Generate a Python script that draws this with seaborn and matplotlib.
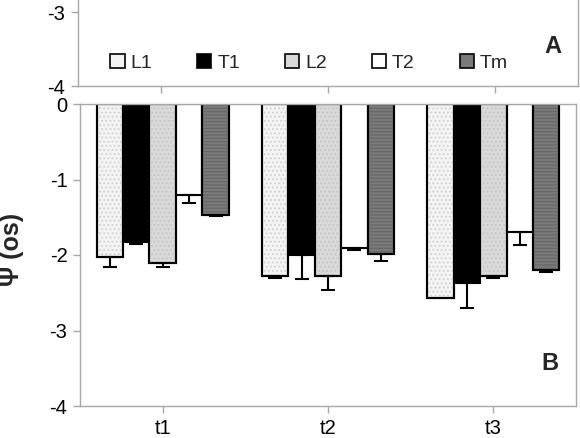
import numpy as np
import pandas as pd
import matplotlib
matplotlib.use("Agg")
import matplotlib.pyplot as plt
import seaborn as sns
from matplotlib.patches import Rectangle

sns.set_style("white")
plt.rcParams["font.family"] = ["Liberation Sans", "DejaVu Sans"]
plt.rcParams["hatch.linewidth"] = 0.8

# ---------------- data (panel B) ----------------
times = ["t1", "t2", "t3"]
series = ["L1", "T1", "L2", "T2", "Tm"]
L1 = [-2.03, -2.28, -2.57]
T1 = [-1.83, -2.00, -2.37]
L2 = [-2.10, -2.28, -2.28]
T2 = [-1.20, -1.91, -1.69]
Tm = [-1.47, -1.99, -2.20]
L1_err = [0.13, 0.03, 0.0]
T1_err = [0.02, 0.32, 0.33]
L2_err = [0.06, 0.18, 0.03]
T2_err = [0.11, 0.02, 0.18]
Tm_err = [0.02, 0.09, 0.02]

vals = {"L1": L1, "T1": T1, "L2": L2, "T2": T2, "Tm": Tm}
errs = {"L1": L1_err, "T1": T1_err, "L2": L2_err, "T2": T2_err, "Tm": Tm_err}
colors = {"L1": "#f3f3f3", "T1": "#000000", "L2": "#d9d9d9", "T2": "#ffffff", "Tm": "#7a7a7a"}
hatches = {"L1": "....", "T1": None, "L2": "....", "T2": None, "Tm": "-----"}
hatch_col = {"L1": "#d0d0d0", "L2": "#c4c4c4", "Tm": "#666666"}

df = pd.DataFrame([(t, s, vals[s][i]) for s in series for i, t in enumerate(times)],
                  columns=["time", "series", "psi"])

fig = plt.figure(figsize=(5.8, 4.38), dpi=100)
W, H = 580, 438
axA = fig.add_axes([78 / W, (H - 86) / H, 500 / W, 296 / H])
axB = fig.add_axes([80 / W, (H - 406) / H, 496 / W, 302 / H])

spine_c = "#a8a8a8"

# ---------------- panel B ----------------
sns.barplot(data=df, x="time", y="psi", hue="series", order=times, hue_order=series,
            palette=colors, errorbar=None, width=0.8, edgecolor="black", linewidth=1.5,
            ax=axB)
for cont, s in zip(axB.containers, series):
    for i, bar in enumerate(cont):
        x = bar.get_x() + bar.get_width() / 2
        if errs[s][i] > 0:
            axB.errorbar(x, vals[s][i], yerr=[[errs[s][i]], [0]], fmt="none",
                         ecolor="black", elinewidth=1.5, capsize=5, capthick=1.5, zorder=1)
        if hatches[s]:
            axB.add_patch(Rectangle((bar.get_x(), bar.get_y()), bar.get_width(), bar.get_height(),
                                    fill=False, hatch=hatches[s], edgecolor=hatch_col[s],
                                    linewidth=0, zorder=bar.get_zorder() + 0.1))
            axB.add_patch(Rectangle((bar.get_x(), bar.get_y()), bar.get_width(), bar.get_height(),
                                    fill=False, edgecolor="black", linewidth=1.5,
                                    zorder=bar.get_zorder() + 0.2))

axB.get_legend().remove()

axB.set_ylim(-4, 0)
axB.set_xlim(-0.5, 2.5)
axB.set_yticks([0, -1, -2, -3, -4])
axB.set_yticklabels(["0", "-1", "-2", "-3", "-4"])
axB.set_xlabel("")
axB.set_ylabel("Ψ (os)", fontsize=18, fontweight="bold")
axB.yaxis.set_label_coords(-0.113, 0.52)
axB.text(0.948, 0.142, "B", transform=axB.transAxes, fontsize=17, fontweight="bold",
         ha="center", va="center")

# ---------------- panel A (lower part only visible) ----------------
axA.set_ylim(-4, 0)
axA.set_xlim(-0.5, 2.5)
axA.set_yticks([-3, -4])
axA.set_yticklabels(["-3", "-4"])
axA.set_xticks([0, 1, 2])
axA.set_xticklabels([])
axA.text(0.95, 0.135, "A", transform=axA.transAxes, fontsize=17, fontweight="bold",
         ha="center", va="center")
leg_handles = [Rectangle((0, 0), 1, 1, facecolor=colors[s], edgecolor="black", linewidth=1.2)
               for s in series]
axA.legend(leg_handles, series, ncol=5, frameon=False, loc="center",
           bbox_to_anchor=(0.462, 0.078), fontsize=14, handlelength=0.75, handleheight=0.75,
           handletextpad=0.3, columnspacing=2.3)

for ax in (axA, axB):
    for sp in ax.spines.values():
        sp.set_color(spine_c)
        sp.set_linewidth(1.0)
    ax.tick_params(axis="both", which="both", length=5, color=spine_c, width=1,
                   labelsize=14.5, labelcolor="black", pad=4)
    ax.tick_params(axis="y", left=True)
    ax.tick_params(axis="x", bottom=True)

fig.savefig("out.png", dpi=100)
